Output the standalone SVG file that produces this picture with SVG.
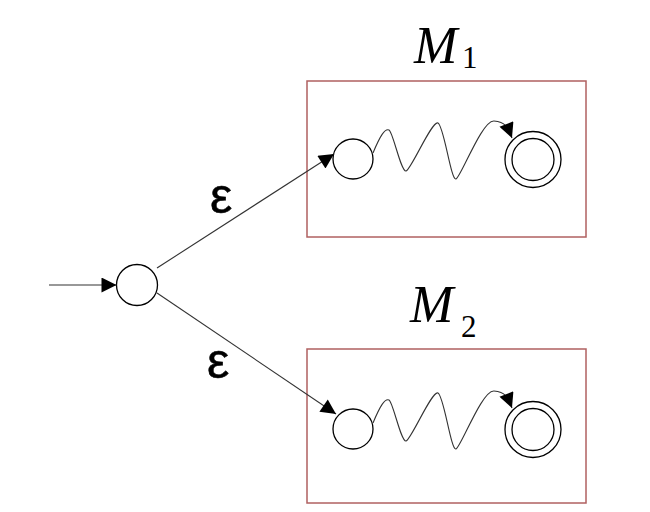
<svg xmlns="http://www.w3.org/2000/svg" width="650" height="512" viewBox="0 0 650 512">
<defs>
<style>
.box{fill:none;stroke:#b06060;stroke-width:1.5}
.st{fill:#fff;stroke:#000;stroke-width:1.3}
.edge{fill:none;stroke:#333;stroke-width:1.1}
.eps{font-family:"Liberation Sans",sans-serif;font-size:50px;fill:#000;stroke:#000;stroke-width:0.5}
.lbl{font-family:"Liberation Serif",serif;font-style:italic;font-size:52px;fill:#000}
.sub{font-family:"Liberation Serif",serif;font-size:31px;fill:#000}
</style>
<marker id="ah" viewBox="0 0 10 10" refX="10" refY="5" markerWidth="17" markerHeight="15" markerUnits="userSpaceOnUse" orient="auto">
<path d="M0,0 L10,5 L0,10 z" fill="#000"/>
</marker>
</defs>
<rect width="650" height="512" fill="#fff"/>
<g id="m1">
<rect class="box" x="307" y="81" width="279" height="156"/>
<text class="lbl" x="414" y="63">M</text><text class="sub" x="462" y="68">1</text>
</g>
<g id="m2">
<rect class="box" x="307" y="349" width="279" height="154"/>
<text class="lbl" x="410" y="322">M</text><text class="sub" x="461" y="337">2</text>
</g>
<g id="start"><circle class="st" cx="137" cy="285" r="20.5"/></g>
<g id="m1s"><circle class="st" cx="353" cy="159" r="20"/></g>
<g id="m1f"><circle class="st" cx="533" cy="159.5" r="28"/><circle class="st" cx="533" cy="159.5" r="21"/></g>
<g id="m2s"><circle class="st" cx="353" cy="429" r="20"/></g>
<g id="m2f"><circle class="st" cx="533" cy="429.5" r="28"/><circle class="st" cx="533" cy="429.5" r="21"/></g>
<g id="connectors">
<line class="edge" x1="49" y1="285" x2="116.5" y2="285" marker-end="url(#ah)"/>
<line class="edge" x1="157" y1="268" x2="334" y2="154" marker-end="url(#ah)"/>
<line class="edge" x1="157" y1="293" x2="336" y2="414" marker-end="url(#ah)"/>
<path class="edge" d="M373,153 C380,136 385,128 389,130 S401,172 406,171 S432,120 438,123 S451,181 456,179 S482,120 494,121 S508,128 512,138" marker-end="url(#ah)"/>
<path class="edge" transform="translate(0,270)" d="M373,153 C380,136 385,128 389,130 S401,172 406,171 S432,120 438,123 S451,181 456,179 S482,120 494,121 S508,128 512,138" marker-end="url(#ah)"/>
<text class="eps" x="210" y="213">ε</text>
<text class="eps" x="207" y="378">ε</text>
</g>
</svg>
